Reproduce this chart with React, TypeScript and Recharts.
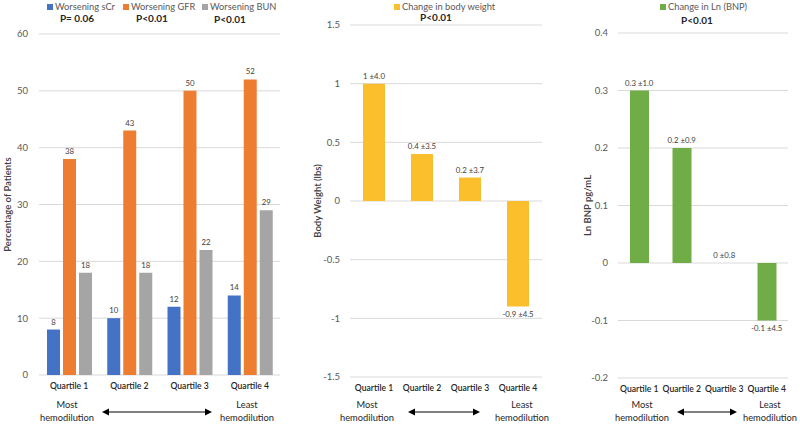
import React from 'react';
import { BarChart, Bar, XAxis, YAxis, CartesianGrid, LabelList, ReferenceDot } from 'recharts';

// ---------- data ----------
const quartiles = ['Quartile 1', 'Quartile 2', 'Quartile 3', 'Quartile 4'];
const worseningSCr = [8, 10, 12, 14];
const worseningGFR = [38, 43, 50, 52];
const worseningBUN = [18, 18, 22, 29];
const renalNames = ['Worsening sCr', 'Worsening GFR', 'Worsening BUN'];
const renalP = ['P= 0.06', 'P<0.01', 'P<0.01'];
const pctTicks = [0, 10, 20, 30, 40, 50, 60];

const bodyWeightChange = [1, 0.4, 0.2, -0.9];
const bodyWeightSD = ['±4.0', '±3.5', '±3.7', '±4.5'];
const bodyWeightName = 'Change in body weight';
const bodyWeightP = 'P<0.01';
const bwTicks = [-1.5, -1, -0.5, 0, 0.5, 1, 1.5];

const lnBnpChange = [0.3, 0.2, 0, -0.1];
const lnBnpSD = ['±1.0', '±0.9', '±0.8', '±4.5'];
const lnBnpName = 'Change in Ln (BNP)';
const lnBnpP = 'P<0.01';
const bnpTicks = [-0.2, -0.1, 0, 0.1, 0.2, 0.3, 0.4];

const mostLabel = ['Most', 'hemodilution'];
const leastLabel = ['Least', 'hemodilution'];

// ---------- styles ----------
const FONT = 'Lato, "Open Sans", sans-serif';
const C_BLUE = '#4472C4';
const C_ORANGE = '#ED7D31';
const C_GRAY = '#A5A5A5';
const C_GOLD = '#FBBF2D';
const C_GREEN = '#70AD47';
const GRID = '#D9D9D9';
const TICK = { fontSize: 9.5, fill: '#595959' };
const XTICK = { fontSize: 8.6, fill: '#262626', fontWeight: 600 };
const LBL_SIZE = 7.8;
const LBL_COLOR = '#404040';

const renalData = quartiles.map((q, i) => ({
  q,
  scr: worseningSCr[i],
  gfr: worseningGFR[i],
  bun: worseningBUN[i],
}));
const bwData = quartiles.map((q, i) => ({
  q,
  v: bodyWeightChange[i],
  label: `${bodyWeightChange[i]} ${bodyWeightSD[i]}`,
}));
const bnpData = quartiles.map((q, i) => ({
  q,
  v: lnBnpChange[i],
  label: `${lnBnpChange[i]} ${lnBnpSD[i]}`,
}));

const fmt = (v: number) => String(v);

// label above a positive bar (used for the renal chart)
const topLabel = (props: any) => {
  const { x, y, width, height, value } = props;
  const top = Math.min(y, y + height);
  return (
    <text x={x + width / 2} y={top - 5} textAnchor="middle" fontSize={LBL_SIZE} fill={LBL_COLOR}>
      {value}
    </text>
  );
};

// value labels placed at the bar's end via the chart scales
const endLabel = (text: string, negative: boolean) => (props: any) => {
  const { cx, cy } = props;
  return (
    <text x={cx} y={negative ? cy + 10 : cy - 5} textAnchor="middle" fontSize={LBL_SIZE} fill={LBL_COLOR}>
      {text}
    </text>
  );
};

function Txt({ x, y, children, bold, size = 9.5, color = '#595959', anchor = 'middle' }: any) {
  const tx = anchor === 'middle' ? '-50%' : '0';
  return (
    <div
      style={{
        position: 'absolute',
        left: x,
        top: y,
        transform: `translate(${tx}, -50%)`,
        fontSize: size,
        fontWeight: bold ? 700 : 400,
        color,
        whiteSpace: 'nowrap',
        lineHeight: 1,
      }}
    >
      {children}
    </div>
  );
}

function LegendItem({ x, y, color, text }: any) {
  return (
    <>
      <div style={{ position: 'absolute', left: x, top: y - 3, width: 6, height: 6, background: color }} />
      <Txt x={x + 8} y={y} anchor="start" size={9.3} color="#595959">
        {text}
      </Txt>
    </>
  );
}

function Bottom({ most, least, a1, a2 }: any) {
  return (
    <>
      <Txt x={most} y={405} color="#262626" size={9.3}>{mostLabel[0]}</Txt>
      <Txt x={most} y={418} color="#262626" size={9.3}>{mostLabel[1]}</Txt>
      <Txt x={least} y={405} color="#262626" size={9.3}>{leastLabel[0]}</Txt>
      <Txt x={least} y={418} color="#262626" size={9.3}>{leastLabel[1]}</Txt>
      <svg style={{ position: 'absolute', left: 0, top: 0 }} width={800} height={424}>
        <line x1={a1 + 5} y1={412} x2={a2 - 5} y2={412} stroke="#000" strokeWidth={1} />
        <path d={`M${a1},412 L${a1 + 7},408.5 L${a1 + 7},415.5 Z`} fill="#000" />
        <path d={`M${a2},412 L${a2 - 7},408.5 L${a2 - 7},415.5 Z`} fill="#000" />
      </svg>
    </>
  );
}

const yLabel = (value: string, offset: number) => ({
  value,
  angle: -90,
  position: 'insideLeft' as const,
  offset,
  textAnchor: 'middle' as const,
  style: { fontSize: 9.5, fill: '#404040', fontWeight: 600 },
});

export default function App() {
  return (
    <div
      style={{
        position: 'absolute',
        left: 0,
        top: 0,
        width: 800,
        height: 424,
        background: '#fff',
        fontFamily: FONT,
        overflow: 'hidden',
      }}
    >
      {/* Chart 1 */}
      <div style={{ position: 'absolute', left: 0, top: 0 }}>
        <BarChart
          width={290}
          height={424}
          data={renalData}
          margin={{ top: 34, right: 10, bottom: 29, left: 0 }}
          barSize={13}
          barGap={3}
        >
          <CartesianGrid vertical={false} stroke={GRID} />
          <XAxis dataKey="q" axisLine={false} tickLine={false} tick={XTICK} height={20} interval={0} />
          <YAxis
            width={39}
            domain={[0, 60]}
            ticks={pctTicks}
            interval={0}
            axisLine={false}
            tickLine={false}
            tick={TICK}
            tickMargin={5}
            tickFormatter={fmt}
            label={yLabel('Percentage of Patients', 8)}
          />
          <Bar dataKey="scr" fill={C_BLUE} isAnimationActive={false}>
            <LabelList dataKey="scr" content={topLabel} />
          </Bar>
          <Bar dataKey="gfr" fill={C_ORANGE} isAnimationActive={false}>
            <LabelList dataKey="gfr" content={topLabel} />
          </Bar>
          <Bar dataKey="bun" fill={C_GRAY} isAnimationActive={false}>
            <LabelList dataKey="bun" content={topLabel} />
          </Bar>
        </BarChart>
      </div>

      {/* Chart 2 */}
      <div style={{ position: 'absolute', left: 290, top: 0 }}>
        <BarChart
          width={260}
          height={424}
          data={bwData}
          margin={{ top: 25, right: 8, bottom: 27, left: 0 }}
          barSize={22}
        >
          <CartesianGrid vertical={false} stroke={GRID} />
          <XAxis dataKey="q" axisLine={false} tickLine={false} tick={XTICK} height={20} interval={0} />
          <YAxis
            width={60}
            domain={[-1.5, 1.5]}
            ticks={bwTicks}
            interval={0}
            axisLine={false}
            tickLine={false}
            tick={TICK}
            tickMargin={4}
            tickFormatter={fmt}
            label={yLabel('Body Weight (lbs)', 28)}
          />
          <Bar dataKey="v" fill={C_GOLD} isAnimationActive={false} />
          {bwData.map((d) => (
            <ReferenceDot key={d.q} x={d.q} y={d.v} r={0} shape={endLabel(d.label, d.v < 0)} />
          ))}
        </BarChart>
      </div>

      {/* Chart 3 */}
      <div style={{ position: 'absolute', left: 560, top: 0 }}>
        <BarChart
          width={240}
          height={424}
          data={bnpData}
          margin={{ top: 33, right: 12, bottom: 26, left: 0 }}
          barSize={19}
        >
          <CartesianGrid vertical={false} stroke={GRID} />
          <XAxis dataKey="q" axisLine={false} tickLine={false} tick={XTICK} height={20} interval={0} />
          <YAxis
            width={58}
            domain={[-0.2, 0.4]}
            ticks={bnpTicks}
            interval={0}
            axisLine={false}
            tickLine={false}
            tick={TICK}
            tickMargin={4}
            tickFormatter={fmt}
            label={yLabel('Ln BNP pg/mL', 28)}
          />
          <Bar dataKey="v" fill={C_GREEN} isAnimationActive={false} />
          {bnpData.map((d) => (
            <ReferenceDot key={d.q} x={d.q} y={d.v} r={0} shape={endLabel(d.label, d.v < 0)} />
          ))}
        </BarChart>
      </div>

      {/* Legends and p-values */}
      <LegendItem x={47} y={7} color={C_BLUE} text={renalNames[0]} />
      <LegendItem x={123} y={7} color={C_ORANGE} text={renalNames[1]} />
      <LegendItem x={202} y={7} color={C_GRAY} text={renalNames[2]} />
      <Txt x={77} y={18} bold size={10} color="#262626">{renalP[0]}</Txt>
      <Txt x={152} y={18} bold size={10} color="#262626">{renalP[1]}</Txt>
      <Txt x={230} y={19} bold size={10} color="#262626">{renalP[2]}</Txt>

      <LegendItem x={394} y={7} color={C_GOLD} text={bodyWeightName} />
      <Txt x={436} y={17} bold size={10} color="#262626">{bodyWeightP}</Txt>

      <LegendItem x={660} y={7} color={C_GREEN} text={lnBnpName} />
      <Txt x={697} y={20} bold size={10} color="#262626">{lnBnpP}</Txt>

      {/* bottom annotations */}
      <Bottom most={67} least={247} a1={102} a2={212} />
      <Bottom most={367} least={522} a1={408} a2={480} />
      <Bottom most={642} least={770} a1={677} a2={737} />
    </div>
  );
}
